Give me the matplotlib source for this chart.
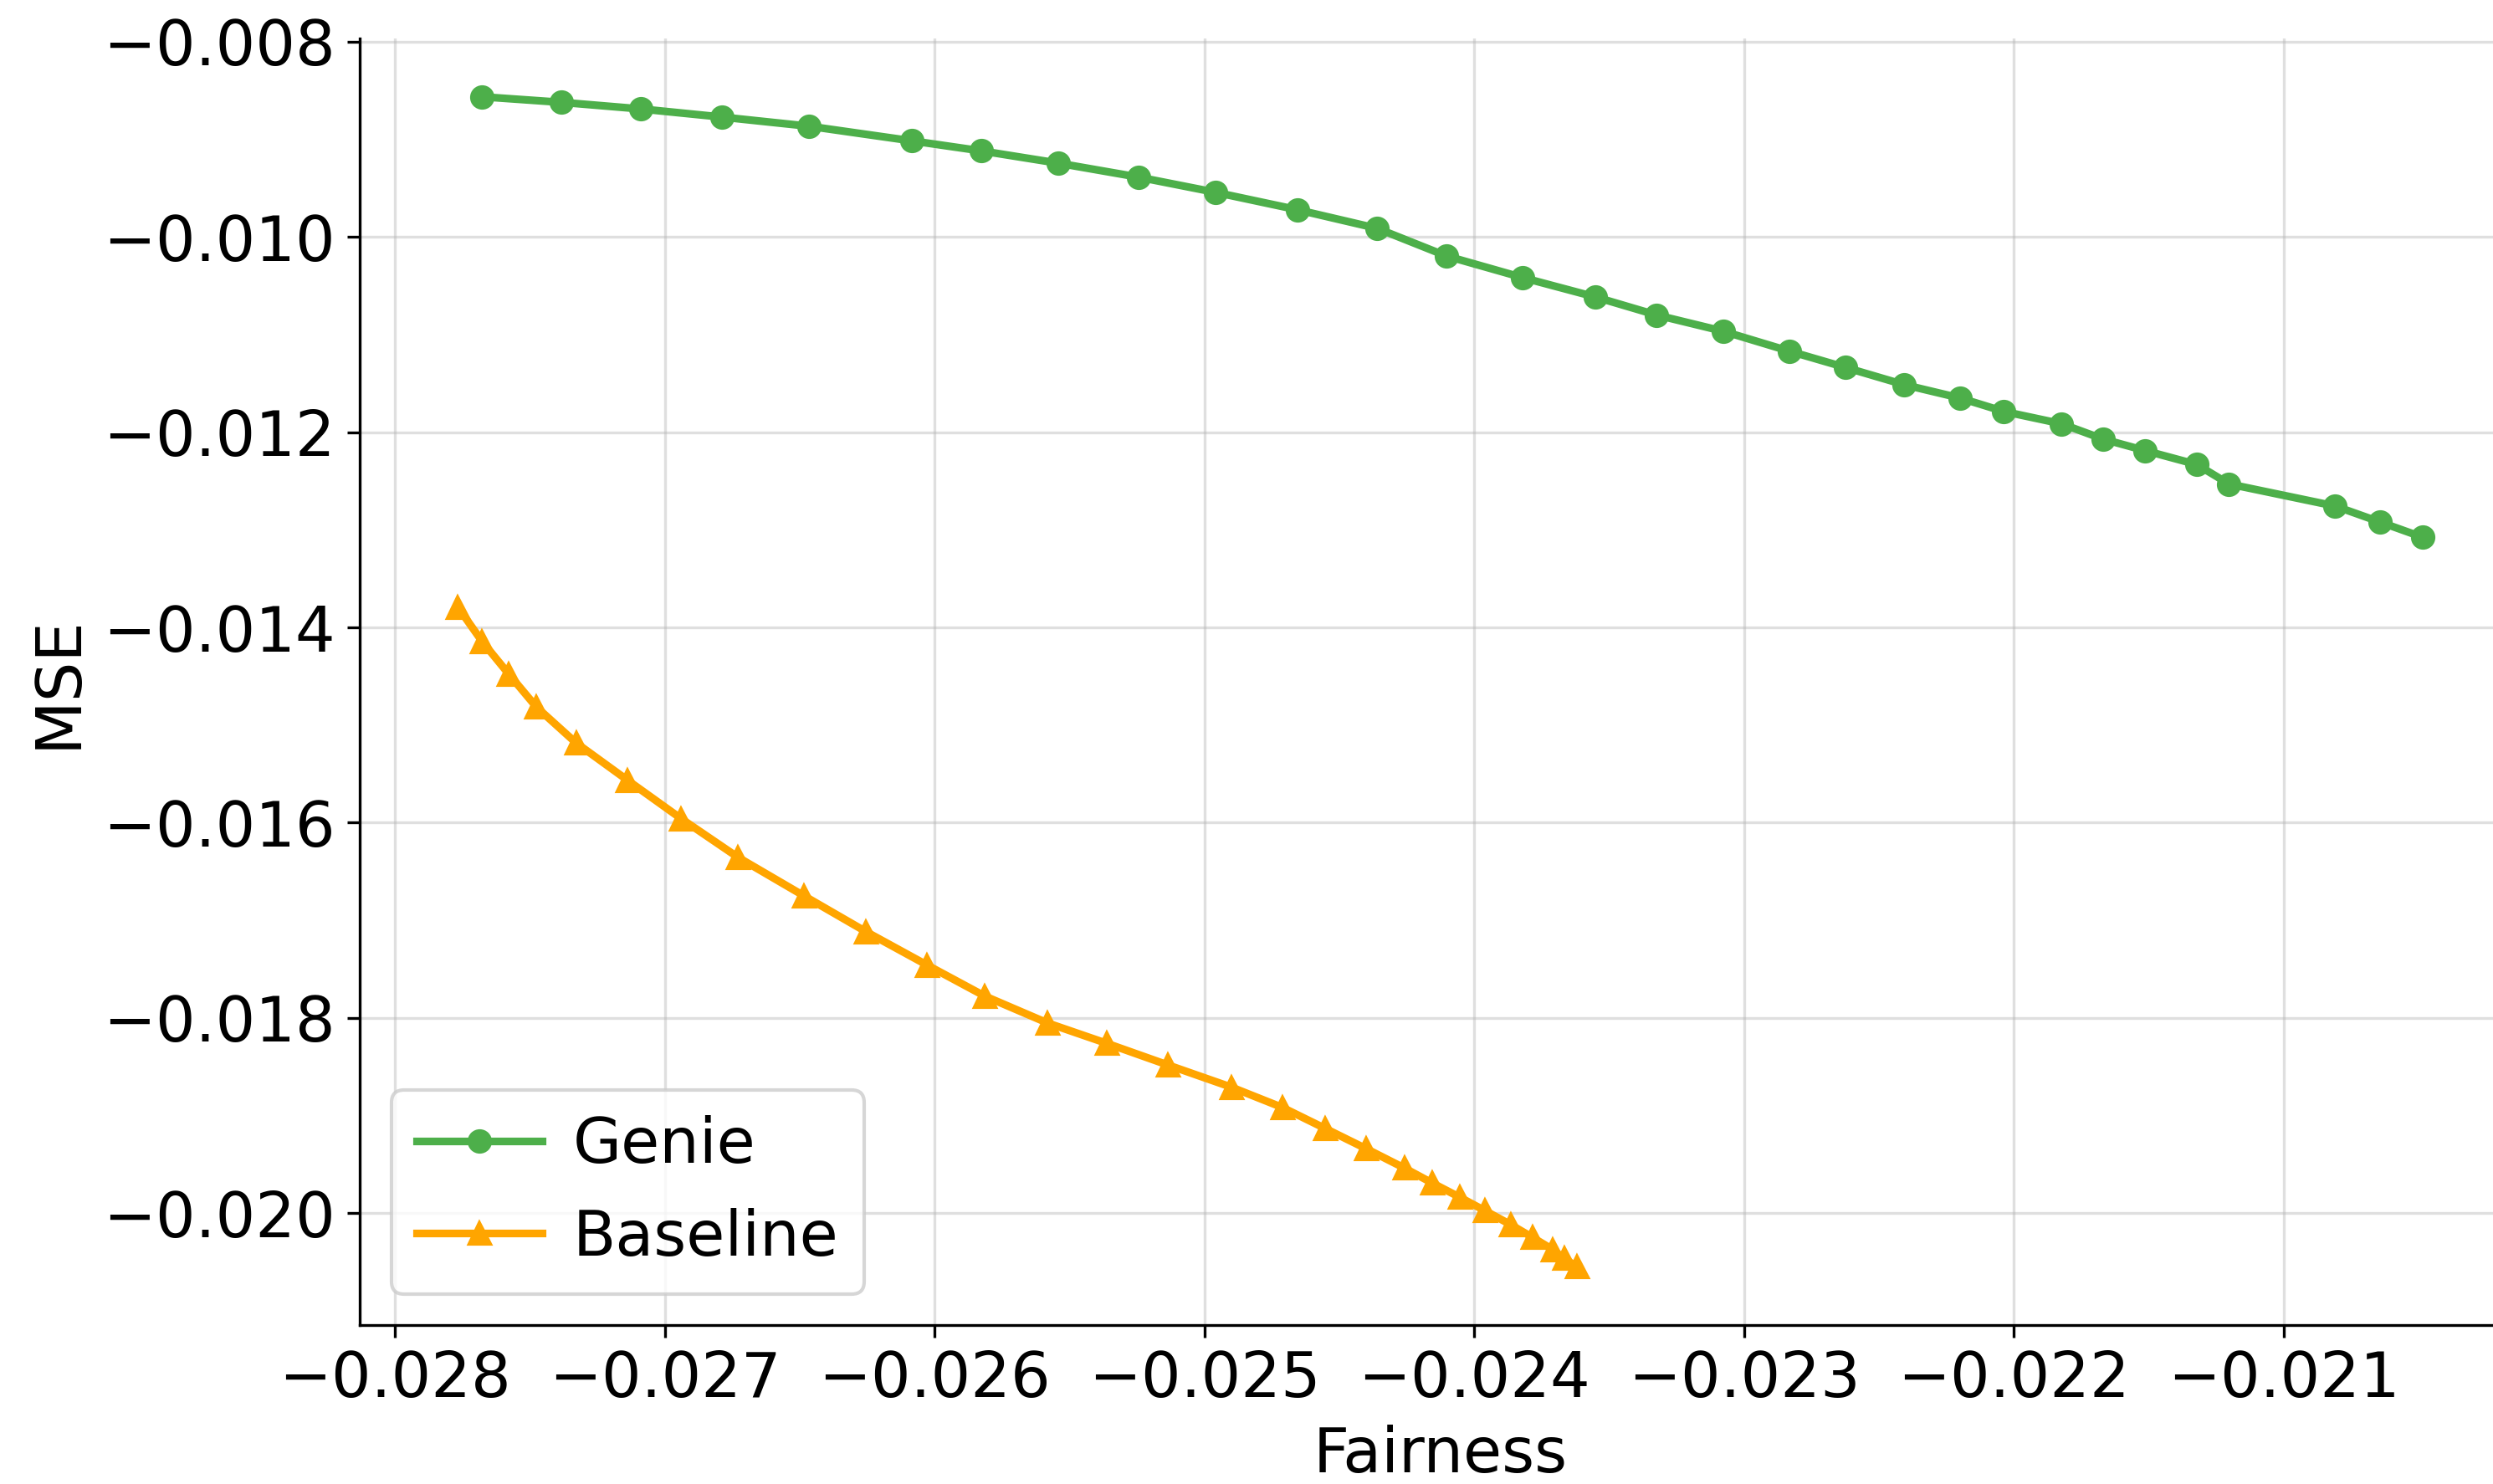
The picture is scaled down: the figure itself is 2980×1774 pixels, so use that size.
import matplotlib
matplotlib.use("Agg")
import matplotlib.pyplot as plt

# Genie curve
genie_fair = [-0.027678, -0.027383, -0.027088, -0.026788, -0.026465, -0.026086,
              -0.025828, -0.025542, -0.025245, -0.024959, -0.024656, -0.024360,
              -0.024103, -0.023820, -0.023551, -0.023324, -0.023077, -0.022833,
              -0.022624, -0.022406, -0.022198, -0.022037, -0.021823, -0.021669,
              -0.021513, -0.021322, -0.021202, -0.020809, -0.020641, -0.020485]
genie_mse = [-0.008563, -0.008620, -0.008688, -0.008771, -0.008865, -0.009014,
             -0.009117, -0.009243, -0.009386, -0.009542, -0.009720, -0.009911,
             -0.010194, -0.010416, -0.010614, -0.010799, -0.010965, -0.011168,
             -0.011336, -0.011513, -0.011650, -0.011787, -0.011913, -0.012070,
             -0.012188, -0.012330, -0.012530, -0.012756, -0.012921, -0.013075]

# Baseline curve
base_fair = [-0.027767, -0.027677, -0.027579, -0.027476, -0.027329, -0.027138,
             -0.026939, -0.026729, -0.026483, -0.026255, -0.026028, -0.025814,
             -0.025581, -0.025362, -0.025134, -0.024900, -0.024710, -0.024551,
             -0.024400, -0.024258, -0.024156, -0.024052, -0.023959, -0.023865,
             -0.023784, -0.023709, -0.023667, -0.023620]
base_mse = [-0.013793, -0.014145, -0.014476, -0.014816, -0.015183, -0.015566,
            -0.015960, -0.016355, -0.016752, -0.017116, -0.017459, -0.017777,
            -0.018053, -0.018261, -0.018484, -0.018710, -0.018919, -0.019135,
            -0.019341, -0.019540, -0.019691, -0.019840, -0.019977, -0.020118,
            -0.020249, -0.020374, -0.020465, -0.020548]

plt.rcParams['font.size'] = 18

fig = plt.figure(figsize=(2980 / 300, 1774 / 300), dpi=300)
ax = fig.add_axes([0.1443, 0.1071, 0.8668, 0.8671])

ax.plot(genie_fair, genie_mse, marker='o', color='#4daf4a', linewidth=2.2, label='Genie')
ax.plot(base_fair, base_mse, marker='^', color='orange', linewidth=2.2, label='Baseline')

ax.set_xlabel("Fairness")
ax.set_ylabel("MSE")
ax.grid(True, alpha=0.4)
ax.spines['top'].set_visible(False)
ax.spines['right'].set_visible(False)
ax.legend(loc='lower left', handletextpad=0.5)

fig.savefig("out.png", dpi=300)
plt.close(fig)
